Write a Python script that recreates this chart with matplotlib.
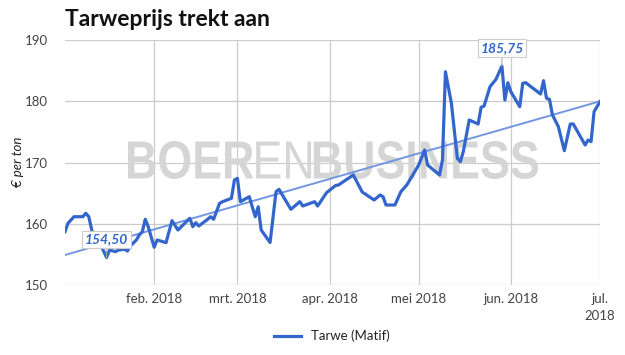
import matplotlib
matplotlib.use("Agg")
import matplotlib.pyplot as plt
import pandas as pd
import numpy as np
from matplotlib.textpath import TextPath
from matplotlib.patches import PathPatch
from matplotlib.path import Path
from matplotlib.font_manager import FontProperties
from matplotlib.transforms import Affine2D, IdentityTransform
from matplotlib.lines import Line2D

plt.rcParams["font.family"] = ["Lato", "DejaVu Sans"]

# ---------------- data ----------------
dates = [
    "2018-01-02", "2018-01-03", "2018-01-05", "2018-01-08", "2018-01-09", "2018-01-10",
    "2018-01-11", "2018-01-12", "2018-01-14", "2018-01-16", "2018-01-17", "2018-01-19",
    "2018-01-20", "2018-01-22", "2018-01-23", "2018-01-24", "2018-01-26", "2018-01-27",
    "2018-01-28", "2018-01-29", "2018-01-30", "2018-02-01", "2018-02-02", "2018-02-05",
    "2018-02-07", "2018-02-09", "2018-02-13", "2018-02-14", "2018-02-15", "2018-02-16",
    "2018-02-19", "2018-02-20", "2018-02-21", "2018-02-23", "2018-02-24", "2018-02-27",
    "2018-02-28", "2018-03-01", "2018-03-02", "2018-03-05", "2018-03-06", "2018-03-07",
    "2018-03-08", "2018-03-09", "2018-03-12", "2018-03-14", "2018-03-15", "2018-03-19",
    "2018-03-22", "2018-03-23", "2018-03-27", "2018-03-28", "2018-03-31", "2018-04-03",
    "2018-04-04", "2018-04-09", "2018-04-12", "2018-04-16", "2018-04-18", "2018-04-19",
    "2018-04-20", "2018-04-23", "2018-04-25", "2018-04-27", "2018-04-29", "2018-05-01",
    "2018-05-03", "2018-05-04", "2018-05-08", "2018-05-09", "2018-05-10", "2018-05-12",
    "2018-05-14", "2018-05-15", "2018-05-16", "2018-05-18", "2018-05-21", "2018-05-22",
    "2018-05-23", "2018-05-25", "2018-05-27", "2018-05-29", "2018-05-30", "2018-05-31",
    "2018-06-01", "2018-06-04", "2018-06-05", "2018-06-06", "2018-06-11", "2018-06-12",
    "2018-06-13", "2018-06-14", "2018-06-15", "2018-06-17", "2018-06-19", "2018-06-21",
    "2018-06-22", "2018-06-26", "2018-06-27", "2018-06-28", "2018-06-29", "2018-07-01",
]
prices = [
    158.70, 160.07, 161.15, 161.15, 161.71, 161.15,
    158.98, 157.07, 156.53, 154.50, 155.71, 155.44,
    155.71, 155.83, 155.55, 156.37, 157.35, 158.16,
    158.70, 160.73, 159.52, 156.16, 157.35, 156.91,
    160.50, 158.98, 160.89, 159.52, 160.17, 159.63,
    160.73, 161.15, 160.73, 163.34, 163.60, 164.16,
    167.14, 167.42, 163.60, 164.42, 162.78, 161.15,
    162.78, 158.98, 156.94, 165.23, 165.62, 162.36,
    163.60, 162.90, 163.60, 162.90, 165.07, 166.24,
    166.33, 167.96, 165.18, 163.88, 164.69, 164.42,
    163.06, 163.06, 165.23, 166.33, 167.96, 169.59,
    172.04, 169.59, 167.96, 170.41, 184.82, 179.67,
    170.69, 170.13, 171.76, 176.94, 176.29, 179.01,
    179.22, 182.38, 183.58, 185.75, 180.20, 183.03,
    181.56, 179.11, 182.93, 183.03, 181.18, 183.36,
    180.48, 180.32, 177.76, 175.84, 171.93, 176.29,
    176.29, 172.86, 173.67, 173.40, 178.29, 179.93,
]
trend_dates = ["2018-01-02", "2018-07-01"]
trend_values = [154.9, 180.0]

month_ticks = ["2018-02-01", "2018-03-01", "2018-04-01", "2018-05-01", "2018-06-01", "2018-07-01"]
month_labels = ["feb. 2018", "mrt. 2018", "apr. 2018", "mei 2018", "jun. 2018", "jul.\n2018"]
y_ticks = [150, 160, 170, 180, 190]
series_name = "Tarwe (Matif)"
title = "Tarweprijs trekt aan"
y_label = "€ per ton"
watermark_parts = [("BOER", "bold"), ("EN", "normal"), ("BUSINESS", "bold")]

# ---------------- figure ----------------
W, H = 625, 355
fig = plt.figure(figsize=(W / 100, H / 100), dpi=100)
ax = fig.add_axes([65 / W, 1 - 285 / H, 535 / W, 245 / H])

x = pd.to_datetime(dates)
y = np.array(prices)
xt = pd.to_datetime(trend_dates)

BLUE = "#3366cc"

# watermark
paths = []
xoff = 0.0
for txt, wgt in watermark_parts:
    fp = FontProperties(family="Liberation Sans", weight=wgt)
    tp = TextPath((0, 0), txt, size=100, prop=fp)
    bb = tp.get_extents()
    v = tp.vertices.copy()
    v[:, 0] += xoff - bb.x0
    paths.append(Path(v, tp.codes))
    xoff += bb.width + 6
comp = Path.make_compound_path(*paths)
bb = comp.get_extents()
tr = (Affine2D().translate(-bb.x0, -bb.y0)
      .scale(410 / bb.width, 38 / bb.height)
      .translate(128, H - 179))
wm = PathPatch(tr.transform_path(comp), facecolor="#d5d5d5", edgecolor="none",
               transform=IdentityTransform(), zorder=1.5)
ax.add_artist(wm)

ax.plot(xt, trend_values, color="#7396e2", lw=1.4, zorder=2)
ax.plot(x, y, color=BLUE, lw=2.3, zorder=3, solid_joinstyle="round")

ax.set_xlim(x[0], x[-1])
ax.set_ylim(150, 190)
ax.set_yticks(y_ticks)
ax.set_xticks(pd.to_datetime(month_ticks))
ax.set_xticklabels(month_labels)
ax.grid(True, color="#cccccc", lw=0.9, zorder=0)
ax.set_axisbelow(True)
for s in ax.spines.values():
    s.set_visible(False)
ax.tick_params(length=0, labelsize=9.5, colors="#444444")
ax.tick_params(axis="y", pad=12)
ax.tick_params(axis="x", pad=6)
for lab in ax.get_xticklabels():
    lab.set_linespacing(1.5)

fig.text(18 / W, 1 - 162 / H, y_label, rotation=90, style="italic", fontsize=9.5,
         ha="center", va="center", color="#222222")
fig.text(65 / W, 1 - 20 / H, title, fontsize=16.5, weight="bold", ha="left", va="center",
         color="#111111")

# min / max annotations
for idx in (int(np.argmin(y)), int(np.argmax(y))):
    lab = f"{y[idx]:.2f}".replace(".", ",")
    ax.annotate(lab, xy=(x[idx], y[idx]), xytext=(0, 13), textcoords="offset points",
                ha="center", va="center", fontsize=10, style="italic", weight="bold",
                color=BLUE, zorder=5,
                bbox=dict(boxstyle="square,pad=0.2", fc="white", ec="#cccccc", lw=0.8),
                arrowprops=dict(arrowstyle="-", color="#aaaaaa", lw=0.8, shrinkA=0, shrinkB=0))

handle = Line2D([], [], color=BLUE, lw=2.3)
fig.legend([handle], [series_name], loc="center", bbox_to_anchor=(332 / W, 1 - 336 / H),
           frameon=False, fontsize=9.5, handlelength=2.0, labelcolor="#222222")

fig.savefig("out.png", dpi=100)
